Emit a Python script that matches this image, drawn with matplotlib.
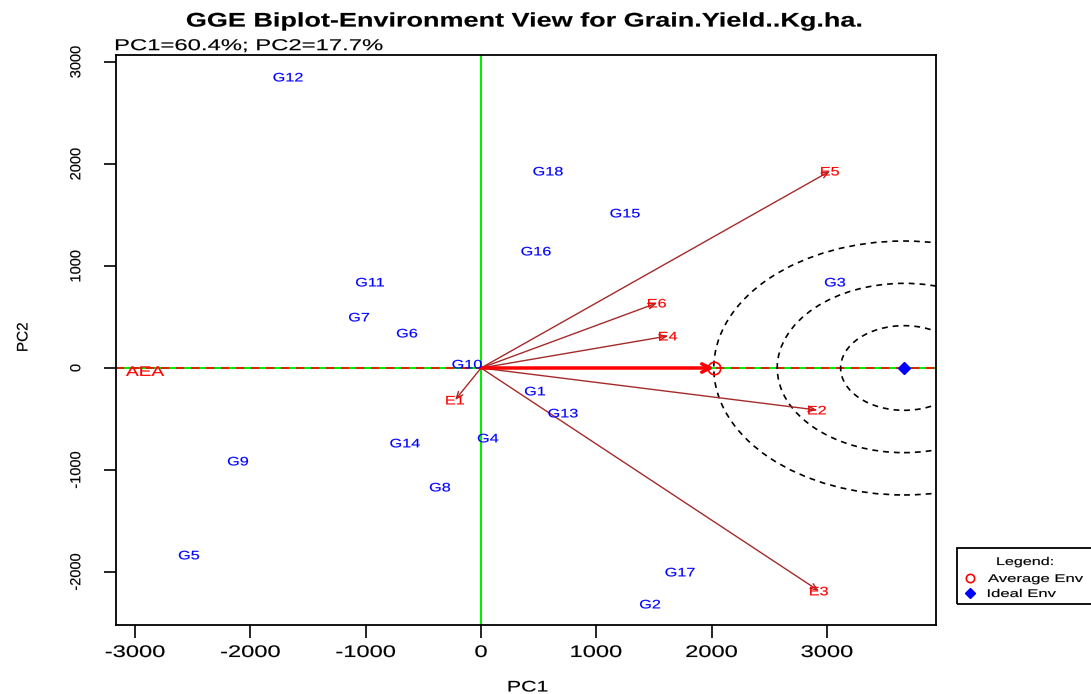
import matplotlib.pyplot as plt
from matplotlib.patches import Ellipse, Rectangle, PathPatch
from matplotlib.lines import Line2D
from matplotlib.textpath import TextPath
from matplotlib.font_manager import FontProperties
from matplotlib.transforms import Affine2D

plt.rcParams['font.family'] = ['Liberation Sans', 'DejaVu Sans']

# genotype scores (PC1, PC2)
gen_names = ["G1", "G2", "G3", "G4", "G5", "G6", "G7", "G8", "G9", "G10",
             "G11", "G12", "G13", "G14", "G15", "G16", "G17", "G18"]
gen_pc1 = [468, 1466, 3070, 61, -2533, -642, -1058, -356, -2108, -121,
           -963, -1674, 711, -659, 1249, 477, 1726, 581]
gen_pc2 = [-225, -2314, 843, -686, -1833, 343, 500, -1167, -912, 39,
           843, 2853, -441, -735, 1520, 1147, -2000, 1931]

# environment scores (PC1, PC2)
env_names = ["E1", "E2", "E3", "E4", "E5", "E6"]
env_pc1 = [-225, 2914, 2931, 1622, 3027, 1526]
env_pc2 = [-314, -412, -2186, 314, 1931, 637]

avg_env = (2020, 0)
ideal_env = (3669, 0)
ring_rx = [550, 1100, 1650]
ring_ry = [415, 830, 1245]

x_ticks = [-3000, -2000, -1000, 0, 1000, 2000, 3000]
y_ticks = [-2000, -1000, 0, 1000, 2000, 3000]

W, H, DPI = 1091, 694, 100
fig = plt.figure(figsize=(W / DPI, H / DPI), dpi=DPI)
ax = fig.add_axes([116 / W, 1 - 625 / H, (936 - 116) / W, (625 - 55) / H])
ax.set_xlim(-3166, 3946)
ax.set_ylim(-2520, 3069)


def wide_text(px, py, s, size, sx=1.37, color="black", weight="normal", ha="center", rot=0):
    """Text drawn as a path, widened horizontally; px/py in pixels from top-left."""
    em = size * DPI / 72
    tp = TextPath((0, 0), s, size=em, prop=FontProperties(family="Liberation Sans", weight=weight))
    ext = tp.get_extents()
    ox = {"left": ext.x0, "center": (ext.x0 + ext.x1) / 2, "right": ext.x1}[ha]
    oy = 0.716 * em / 2
    t = Affine2D().translate(-ox, -oy).rotate_deg(rot).scale(sx, 1).translate(px, H - py)
    fig.add_artist(PathPatch(tp, transform=t, fc=color, ec=color, lw=0.12, zorder=5))


def to_px(x, y):
    dx, dy = ax.transData.transform((x, y))
    return dx, H - dy


# axis lines through the origin and the average-environment axis
ax.axhline(0, color="#00ee00", lw=1.5, zorder=1)
ax.axvline(0, color="#00ee00", lw=1.5, zorder=1)
ax.axhline(0, color="red", lw=1.2, ls=(0, (5, 4)), zorder=2)

# concentric rings around the ideal environment
for rx, ry in zip(ring_rx, ring_ry):
    ax.add_patch(Ellipse(ideal_env, 2 * rx, 2 * ry, fill=False, ec="black",
                         ls=(0, (3.5, 3)), lw=1.2, zorder=2))

# environment vectors
for x, y in zip(env_pc1, env_pc2):
    ax.annotate("", xy=(x, y), xytext=(0, 0),
                arrowprops=dict(arrowstyle="->,head_length=0.5,head_width=0.2",
                                color="#a52a2a", lw=1, shrinkA=0, shrinkB=0),
                zorder=3)

# average environment vector
ax.annotate("", xy=avg_env, xytext=(0, 0),
            arrowprops=dict(arrowstyle="->,head_length=0.6,head_width=0.3",
                            color="red", lw=2.5, shrinkA=0, shrinkB=0), zorder=4)
ax.plot(*avg_env, marker="o", ms=9, mfc="none", mec="red", mew=1.2, zorder=5)
ax.plot(*ideal_env, marker="D", ms=6, color="blue", zorder=5)

ax.set_xticks(x_ticks)
ax.set_yticks(y_ticks)
ax.tick_params(direction="out", length=9, width=1.2, labelbottom=False, labelleft=False)
for s in ax.spines.values():
    s.set_linewidth(1.3)

# point labels
for name, x, y in zip(env_names, env_pc1, env_pc2):
    wide_text(*to_px(x, y), name, 8.8, sx=1.33, color="red")
for name, x, y in zip(gen_names, gen_pc1, gen_pc2):
    wide_text(*to_px(x, y), name, 8.8, sx=1.33, color="blue")
wide_text(*to_px(-2914, -29), "AEA", 10, color="red")

# tick labels
for v in x_ticks:
    wide_text(to_px(v, 0)[0], 651, str(v), 12, sx=1.42)
for v in y_ticks:
    wide_text(75, to_px(0, v)[1], str(v), 10.5, sx=1.0, rot=90)

# titles
wide_text(524, 19.5, "GGE Biplot-Environment View for Grain.Yield..Kg.ha.", 14.2,
          sx=1.37, weight="bold")
wide_text(116, 44.5, "PC1=60.4%; PC2=17.7%", 11.3, sx=1.52, ha="left")
wide_text(528, 686, "PC1", 11, sx=1.4)
wide_text(22, 337, "PC2", 11, sx=1.0, rot=90)

# legend box on the right margin
fig.add_artist(Rectangle((957 / W, 1 - 604 / H), 140 / W, 56 / H, transform=fig.transFigure,
                         fill=False, ec="black", lw=1.3))
fig.add_artist(Line2D([970 / W], [1 - 578 / H], transform=fig.transFigure, marker="o",
                      ms=6, mfc="none", mec="red", mew=1.2))
fig.add_artist(Line2D([970 / W], [1 - 593 / H], transform=fig.transFigure, marker="D",
                      ms=5, color="blue"))
wide_text(1025, 561, "Legend:", 8, sx=1.45)
wide_text(988, 578, "Average Env", 8, sx=1.5, ha="left")
wide_text(988, 593, "Ideal Env", 8, sx=1.5, ha="left")

fig.savefig("out.png", dpi=DPI)
